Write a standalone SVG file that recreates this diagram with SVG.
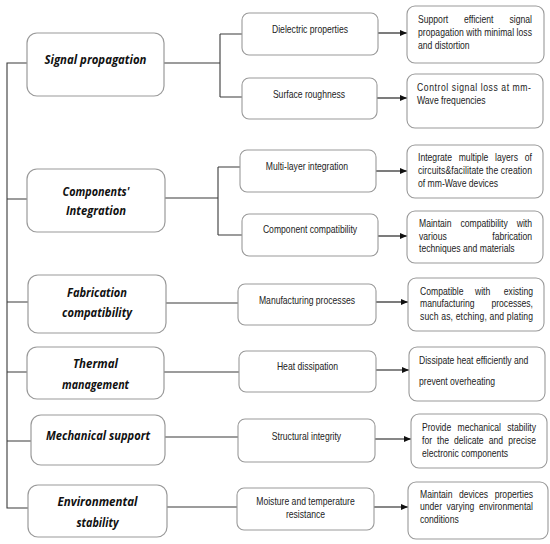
<svg xmlns="http://www.w3.org/2000/svg" width="550" height="544" viewBox="0 0 550 544">
<defs>
<marker id="ah" markerWidth="7" markerHeight="6" refX="7" refY="3" orient="auto" markerUnits="userSpaceOnUse">
<path d="M0,0 L7,3 L0,6 Z" fill="#111"/>
</marker>
<style>
.bg{fill:#fff}
.lb{fill:#fff;stroke:#9a9a9a;stroke-width:1.2}
.mb{fill:#fff;stroke:#9a9a9a;stroke-width:1.1}
.cn{fill:none;stroke:#3a3a3a;stroke-width:1.1}
.ar{fill:none;stroke:#111;stroke-width:1.1;marker-end:url(#ah)}
.lt{font-family:"Open Sans","Noto Sans",sans-serif;font-style:italic;font-weight:700;font-size:12px;fill:#111;text-anchor:middle}
.t{font-family:"Liberation Sans",Arial,sans-serif;font-size:10.5px;fill:#222}
.c{text-anchor:middle}
.e{text-anchor:end}
</style>
</defs>
<rect class="bg" x="0" y="0" width="550" height="544"/>

<g id="connectors">
<path class="cn" d="M27,63 H7 V508 H28"/>
<path class="cn" d="M7,199 H27 M7,302 H28 M7,372 H27 M7,441 H31"/>
<path class="cn" d="M164,63 H220 M220,34 V97 M220,34 H242 M220,97 H242"/>
<path class="cn" d="M165,198 H218 M218,167 V235 M218,167 H240 M218,235 H242"/>
<path class="cn" d="M166,303 H238 M164,372 H239 M165,437 H238 M167,507 H237"/>
<path class="ar" d="M378,33 H407"/>
<path class="ar" d="M377,98 H407"/>
<path class="ar" d="M376,171 H407"/>
<path class="ar" d="M378,236 H407"/>
<path class="ar" d="M376,302 H408"/>
<path class="ar" d="M376,370 H409"/>
<path class="ar" d="M375,439 H411"/>
<path class="ar" d="M374,507 H408"/>
</g>

<g id="n-signal">
<rect class="lb" x="27" y="33" width="137" height="63" rx="10"/>
<text class="lt" x="95.5" y="64" textLength="102" lengthAdjust="spacingAndGlyphs">Signal propagation</text>
</g>
<g id="n-components">
<rect class="lb" x="27" y="169" width="138" height="63" rx="10"/>
<text class="lt" x="96" y="196" textLength="67" lengthAdjust="spacingAndGlyphs">Components'</text>
<text class="lt" x="96" y="215" textLength="60" lengthAdjust="spacingAndGlyphs">Integration</text>
</g>
<g id="n-fabrication">
<rect class="lb" x="28" y="275" width="138" height="58" rx="10"/>
<text class="lt" x="97" y="297" textLength="60" lengthAdjust="spacingAndGlyphs">Fabrication</text>
<text class="lt" x="97" y="317" textLength="70" lengthAdjust="spacingAndGlyphs">compatibility</text>
</g>
<g id="n-thermal">
<rect class="lb" x="27" y="347" width="137" height="52" rx="10"/>
<text class="lt" x="95.5" y="368" textLength="45" lengthAdjust="spacingAndGlyphs">Thermal</text>
<text class="lt" x="95.5" y="389" textLength="67" lengthAdjust="spacingAndGlyphs">management</text>
</g>
<g id="n-mechanical">
<rect class="lb" x="31" y="415" width="134" height="50" rx="10"/>
<text class="lt" x="98" y="440" textLength="104" lengthAdjust="spacingAndGlyphs">Mechanical support</text>
</g>
<g id="n-environmental">
<rect class="lb" x="28" y="485" width="139" height="52" rx="10"/>
<text class="lt" x="97.5" y="506" textLength="80" lengthAdjust="spacingAndGlyphs">Environmental</text>
<text class="lt" x="97.5" y="527" textLength="42" lengthAdjust="spacingAndGlyphs">stability</text>
</g>

<g id="m-dielectric">
<rect class="mb" x="242" y="13" width="136" height="42" rx="7"/>
<text class="t c" transform="scale(0.82,1)" x="378.05" y="33.5">Dielectric properties</text>
</g>
<g id="m-surface">
<rect class="mb" x="242" y="78" width="135" height="41" rx="7"/>
<text class="t c" transform="scale(0.82,1)" x="376.83" y="98.5">Surface roughness</text>
</g>
<g id="m-multilayer">
<rect class="mb" x="240" y="150" width="136" height="42" rx="7"/>
<text class="t c" transform="scale(0.82,1)" x="374.39" y="170.5">Multi-layer integration</text>
</g>
<g id="m-compat">
<rect class="mb" x="242" y="214" width="136" height="42" rx="7"/>
<text class="t c" transform="scale(0.82,1)" x="378.05" y="233.5">Component compatibility</text>
</g>
<g id="m-manufacturing">
<rect class="mb" x="238" y="284" width="138" height="41" rx="7"/>
<text class="t c" transform="scale(0.82,1)" x="374.39" y="304.5">Manufacturing processes</text>
</g>
<g id="m-heat">
<rect class="mb" x="239" y="351" width="137" height="41" rx="7"/>
<text class="t c" transform="scale(0.82,1)" x="375" y="370.5">Heat dissipation</text>
</g>
<g id="m-structural">
<rect class="mb" x="238" y="419" width="137" height="43" rx="7"/>
<text class="t c" transform="scale(0.82,1)" x="373.78" y="440.5">Structural integrity</text>
</g>
<g id="m-moisture">
<rect class="mb" x="237" y="488" width="137" height="42" rx="7"/>
<text class="t c" transform="scale(0.82,1)" x="372.56" y="505.5">Moisture and temperature</text>
<text class="t c" transform="scale(0.82,1)" x="372.56" y="518.5">resistance</text>
</g>

<g id="r-signal">
<rect class="mb" x="407" y="6" width="137" height="57" rx="8"/>
<g transform="scale(0.82,1)">
<text class="t" y="23.5"><tspan x="509.76">Support</tspan><tspan x="565.85">efficient</tspan><tspan class="e" x="648.78">signal</tspan></text>
<text class="t" x="509.76" y="36.5" textLength="139" lengthAdjust="spacing">propagation with minimal loss</text>
<text class="t" x="509.76" y="49.5">and distortion</text>
</g>
</g>
<g id="r-loss">
<rect class="mb" x="407" y="74" width="136" height="54" rx="8"/>
<g transform="scale(0.82,1)">
<text class="t" x="508.54" y="91.5" textLength="139" lengthAdjust="spacing">Control signal loss at mm-</text>
<text class="t" x="508.54" y="104.5">Wave frequencies</text>
</g>
</g>
<g id="r-integrate">
<rect class="mb" x="407" y="145" width="136" height="53" rx="8"/>
<g transform="scale(0.82,1)">
<text class="t" y="161.5"><tspan x="509.76">Integrate</tspan><tspan x="559.39">multiple</tspan><tspan x="603.78">layers</tspan><tspan class="e" x="648.78">of</tspan></text>
<text class="t" x="509.76" y="174.5" textLength="139" lengthAdjust="spacing">circuits&amp;facilitate the creation</text>
<text class="t" x="509.76" y="187.5">of mm-Wave devices</text>
</g>
</g>
<g id="r-maintain">
<rect class="mb" x="407" y="211" width="136" height="52" rx="8"/>
<g transform="scale(0.82,1)">
<text class="t" y="227.5"><tspan x="510.98">Maintain</tspan><tspan x="561.46">compatibility</tspan><tspan class="e" x="648.78">with</tspan></text>
<text class="t" y="240.5"><tspan x="510.98">various</tspan><tspan class="e" x="648.78">fabrication</tspan></text>
<text class="t" x="510.98" y="252.5">techniques and materials</text>
</g>
</g>
<g id="r-compatible">
<rect class="mb" x="408" y="278" width="136" height="53" rx="8"/>
<g transform="scale(0.82,1)">
<text class="t" y="295.5"><tspan x="512.2">Compatible</tspan><tspan x="579.27">with</tspan><tspan class="e" x="650">existing</tspan></text>
<text class="t" y="307.5"><tspan x="512.2">manufacturing</tspan><tspan class="e" x="650">processes,</tspan></text>
<text class="t" x="512.2" y="320.5" textLength="137.8" lengthAdjust="spacing">such as, etching, and plating</text>
</g>
</g>
<g id="r-dissipate">
<rect class="mb" x="409" y="347" width="136" height="54" rx="8"/>
<g transform="scale(0.82,1)">
<text class="t" x="510.98" y="364.5">Dissipate heat efficiently and</text>
<text class="t" x="510.98" y="385.5">prevent overheating</text>
</g>
</g>
<g id="r-provide">
<rect class="mb" x="411" y="414" width="136" height="54" rx="8"/>
<g transform="scale(0.82,1)">
<text class="t" y="431.5"><tspan x="514.63">Provide</tspan><tspan x="557.93">mechanical</tspan><tspan class="e" x="653.66">stability</tspan></text>
<text class="t" y="444.5"><tspan x="514.63">for</tspan><tspan x="532.93">the</tspan><tspan x="553.66">delicate</tspan><tspan x="595.98">and</tspan><tspan class="e" x="653.66">precise</tspan></text>
<text class="t" x="514.63" y="457.5">electronic components</text>
</g>
</g>
<g id="r-devices">
<rect class="mb" x="408" y="482" width="140" height="57" rx="8"/>
<g transform="scale(0.82,1)">
<text class="t" y="498.5"><tspan x="512.2">Maintain</tspan><tspan x="559.76">devices</tspan><tspan class="e" x="650">properties</tspan></text>
<text class="t" y="510.5"><tspan x="512.2">under</tspan><tspan x="544.51">varying</tspan><tspan class="e" x="650">environmental</tspan></text>
<text class="t" x="512.2" y="523.5">conditions</text>
</g>
</g>
</svg>
